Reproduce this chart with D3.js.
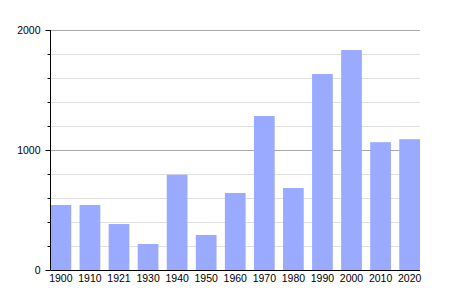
<!DOCTYPE html>
<html>
<head>
<meta charset="utf-8">
<script src="https://cdn.jsdelivr.net/npm/d3@7"></script>
<style>
  body { margin: 0; background: #fff; }
  text { font-family: "Liberation Sans", Arial, sans-serif; }
</style>
</head>
<body>
<svg id="bar_chart"></svg>
<script>
let years = ["1900", "1910", "1921", "1930", "1940", "1950", "1960", "1970", "1980", "1990", "2000", "2010", "2020"]
let population = [542, 542, 383, 217, 794, 292, 642, 1283, 683, 1633, 1833, 1065, 1090]
let yTicks = [0, 1000, 2000]

let width = 450
let height = 300
let margin = {top: 30, right: 30, bottom: 30, left: 50.5}

let svg = d3.select("#bar_chart")
    .attr("width", width)
    .attr("height", height)

let xScale = d3.scaleBand()
    .domain(years)
    .range([margin.left, width - margin.right])
    .paddingInner(0.287)
    .paddingOuter(0)

let yScale = d3.scaleLinear()
    .domain([0, 2000])
    .range([height - margin.bottom, margin.top])

// minor grid every 200
svg.append("g")
    .selectAll("line")
    .data(d3.range(200, 2001, 200).filter(d => d % 1000 != 0))
    .join("line")
    .attr("x1", margin.left)
    .attr("x2", width - margin.right)
    .attr("y1", d => Math.round(yScale(d)) + 0.5)
    .attr("y2", d => Math.round(yScale(d)) + 0.5)
    .attr("stroke", "#e0e0e0")

// major grid
svg.append("g")
    .selectAll("line")
    .data([1000, 2000])
    .join("line")
    .attr("x1", margin.left)
    .attr("x2", width - margin.right)
    .attr("y1", d => Math.round(yScale(d)) + 0.5)
    .attr("y2", d => Math.round(yScale(d)) + 0.5)
    .attr("stroke", "#a8a8a8")

svg.append("g")
    .selectAll("rect")
    .data(population)
    .join("rect")
    .attr("x", (d, i) => xScale(years[i]))
    .attr("width", xScale.bandwidth())
    .attr("y", d => yScale(d))
    .attr("height", d => yScale(0) - yScale(d))
    .attr("fill", "#99aaff")

// y axis with minor ticks
svg.append("g")
    .attr("transform", "translate(" + margin.left + ",0)")
    .call(d3.axisLeft(yScale).tickValues(d3.range(0, 2001, 200)).tickSize(3).tickFormat(""))
    .call(g => g.select(".domain").remove())
    .selectAll("line").attr("stroke", "#000")

svg.append("g")
    .attr("transform", "translate(" + margin.left + ",0)")
    .call(d3.axisLeft(yScale).tickValues(yTicks).tickSize(5).tickPadding(5).tickFormat(d3.format("d")))
    .call(g => g.select(".domain").remove())
    .call(g => g.selectAll("text").attr("font-size", 10.5).attr("fill", "#000").attr("font-family", "Liberation Sans, Arial, sans-serif"))
    .selectAll("line").attr("stroke", "#000")

svg.append("line")
    .attr("x1", margin.left)
    .attr("x2", margin.left)
    .attr("y1", margin.top)
    .attr("y2", yScale(0))
    .attr("stroke", "#000")

// x axis
svg.append("g")
    .attr("transform", "translate(0," + (yScale(0) + 0.5) + ")")
    .call(d3.axisBottom(xScale).tickSize(0).tickPadding(4))
    .call(g => g.select(".domain").attr("stroke", "#000").attr("d", "M" + margin.left + ",0H" + (width - margin.right)))
    .selectAll("text")
    .attr("font-size", 10.5)
    .attr("fill", "#000")
    .attr("font-family", "Liberation Sans, Arial, sans-serif")
</script>
</body>
</html>
